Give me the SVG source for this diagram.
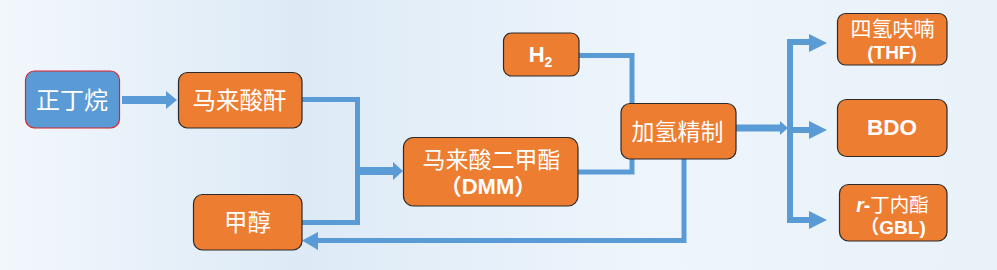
<svg xmlns="http://www.w3.org/2000/svg" width="997" height="270" viewBox="0 0 997 270">
<defs>
<linearGradient id="bg" x1="0" y1="0" x2="1" y2="0">
<stop offset="0" stop-color="#f2f7fc"/>
<stop offset="0.3" stop-color="#ddeaf6"/>
<stop offset="0.65" stop-color="#eef5fc"/>
<stop offset="1" stop-color="#e9f1f9"/>
</linearGradient>
<style>
.box{fill:#ed7d31;stroke:#2b2b2b;stroke-width:1.2}
.t{fill:#fff;font-family:"Noto Sans CJK SC","Noto Sans",sans-serif;font-size:23.5px;text-anchor:middle}
.e{fill:#fff;font-family:"Liberation Sans",Arial,"Noto Sans CJK SC",sans-serif;font-weight:bold;text-anchor:middle}
.ln{fill:none;stroke:#5b9bd5;stroke-width:5}
.hd{fill:#5b9bd5}
</style>
</defs>
<rect width="997" height="270" fill="url(#bg)"/>
<g id="connectors">
<path class="ln" style="stroke-width:8" d="M122 100H168"/>
<polygon class="hd" points="166,91 177,100 166,109"/>
<path class="ln" d="M302 99.5H357.5V222.5H302"/>
<path class="ln" style="stroke-width:8" d="M357 171H394"/>
<polygon class="hd" points="393,162 403,171 393,180"/>
<path class="ln" d="M579 55.5H632V103"/>
<path class="ln" d="M578 172H632V159"/>
<path class="ln" d="M684 159V240.5H316"/>
<polygon class="hd" points="318,232 302,240.5 318,250"/>
<path class="ln" style="stroke-width:7" d="M736 128H782"/>
<polygon class="hd" points="780,121 788,128 780,135"/>
<path class="ln" style="stroke-width:6" d="M810 42H790V220H810"/>
<path class="ln" style="stroke-width:6" d="M790 130H810"/>
<polygon class="hd" points="809,34 827,43 809,52"/>
<polygon class="hd" points="809,121 827,130 809,139"/>
<polygon class="hd" points="809,211 827,220 809,229"/>
</g>
<g id="n-butane">
<rect x="25.5" y="71" width="94" height="57" rx="9" fill="#5b9bd5" stroke="#e0202a" stroke-width="1.2"/>
<text class="t" x="72" y="108.5" style="font-size:24px">正丁烷</text>
</g>
<g id="maleic-anhydride">
<rect class="box" x="178.5" y="72.5" width="123.5" height="55.5" rx="9"/>
<text class="t" x="239.5" y="108.5">马来酸酐</text>
</g>
<g id="methanol">
<rect class="box" x="193.5" y="194.5" width="108.5" height="55.5" rx="9"/>
<text class="t" x="247.5" y="231">甲醇</text>
</g>
<g id="dmm">
<rect class="box" x="403.5" y="137.5" width="174.5" height="68.5" rx="10"/>
<text class="t" x="491.5" y="167.5" style="font-size:23px">马来酸二甲酯</text>
<text class="e" x="488" y="194" style="font-size:22px">（DMM）</text>
</g>
<g id="h2">
<rect class="box" x="503.5" y="33" width="75.5" height="43" rx="8"/>
<text class="e" x="540.5" y="61.5" style="font-size:22px">H<tspan dy="5.5" style="font-size:14px">2</tspan></text>
</g>
<g id="hydrogenation">
<rect class="box" x="621" y="103.5" width="115" height="55.5" rx="9"/>
<text class="t" x="677.5" y="139.5" style="font-size:23px">加氢精制</text>
</g>
<g id="thf">
<rect class="box" x="837.5" y="13.5" width="109.5" height="51.5" rx="8"/>
<text class="t" x="892.5" y="36" style="font-size:21px">四氢呋喃</text>
<text class="e" x="892" y="59" style="font-size:19px">(THF)</text>
</g>
<g id="bdo">
<rect class="box" x="837.5" y="99.5" width="109.5" height="57" rx="9"/>
<text class="e" x="892" y="135" style="font-size:22.5px">BDO</text>
</g>
<g id="gbl">
<rect class="box" x="839.5" y="184.5" width="107.5" height="56.5" rx="9"/>
<text class="t" x="892.5" y="212" style="font-size:19.5px"><tspan style="font-family:'Liberation Sans',sans-serif;font-style:italic;font-weight:bold">r</tspan><tspan style="font-family:'Liberation Sans',sans-serif;font-weight:bold">-</tspan>丁内酯</text>
<text class="e" x="893" y="234" style="font-size:19px">（GBL)</text>
</g>
</svg>
